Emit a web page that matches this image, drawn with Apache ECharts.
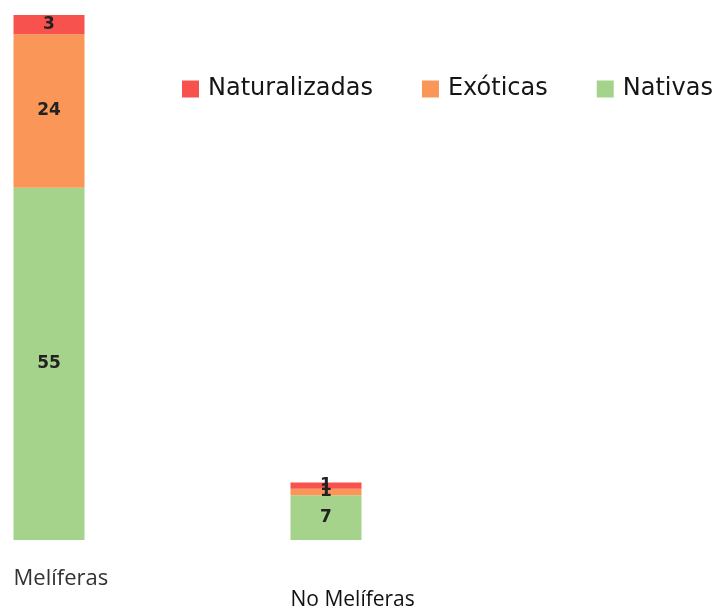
<!DOCTYPE html>
<html>
<head>
<meta charset="utf-8">
<script src="https://cdn.jsdelivr.net/npm/echarts@6/dist/echarts.min.js"></script>
<style>
  html, body { margin: 0; padding: 0; background: #ffffff; }
  #chart { width: 720px; height: 616px; }
</style>
</head>
<body>
<div id="chart"></div>
<script>
// Plant species counts by type: honey-producing (melíferas) vs not
const categories = ['Melíferas', 'No Melíferas'];
const nativas = [55, 7];
const exoticas = [24, 1];
const naturalizadas = [3, 1];
const legendOrder = ['Naturalizadas', 'Exóticas', 'Nativas'];

const colors = {
  Nativas: '#a6d38b',
  'Exóticas': '#fa9758',
  Naturalizadas: '#f8524f'
};

const segmentLabel = {
  show: true,
  position: 'inside',
  color: '#222222',
  fontFamily: 'DejaVu Sans',
  fontWeight: 'bold',
  fontSize: 17
};

function stackSeries(name, values) {
  return {
    name: name,
    type: 'bar',
    stack: 'total',
    barWidth: 71,
    clip: false,
    data: values,
    itemStyle: { color: colors[name] },
    label: segmentLabel
  };
}

const chart = echarts.init(document.getElementById('chart'));

chart.setOption({
  animation: false,
  backgroundColor: '#ffffff',
  // category centres sit on the grid edges (boundaryGap off)
  grid: { left: 49, right: 394, top: 15, bottom: 76 },
  legend: {
    data: legendOrder,
    left: 177,
    top: 72,
    width: 560,
    itemWidth: 17,
    itemHeight: 17,
    itemGap: 49,
    icon: 'rect',
    textStyle: {
      fontFamily: 'DejaVu Sans',
      fontSize: 24,
      color: '#151515',
      padding: [0, 0, 0, 4]
    }
  },
  xAxis: {
    type: 'category',
    data: categories,
    boundaryGap: false,
    axisLine: { show: false },
    axisTick: { show: false },
    axisLabel: { show: false },
    splitLine: { show: false }
  },
  yAxis: {
    type: 'value',
    min: 0,
    max: 82,
    show: false,
    splitLine: { show: false }
  },
  series: [
    stackSeries('Nativas', nativas),
    stackSeries('Exóticas', exoticas),
    stackSeries('Naturalizadas', naturalizadas)
  ]
});

// Category names sit left-aligned under each bar, on staggered rows
const labelRows = [583, 604];
const labelSizes = [22, 21];
const labelColors = ['#333333', '#111111'];
const halfBar = 35.5;
chart.setOption({
  graphic: categories.map(function (name, i) {
    const px = chart.convertToPixel({ xAxisIndex: 0 }, name);
    return {
      type: 'text',
      left: px - halfBar,
      top: labelRows[i] - labelSizes[i] * 0.7,
      style: {
        text: name,
        fontFamily: 'Open Sans',
        fontSize: labelSizes[i],
        fill: labelColors[i]
      }
    };
  })
});
</script>
</body>
</html>
